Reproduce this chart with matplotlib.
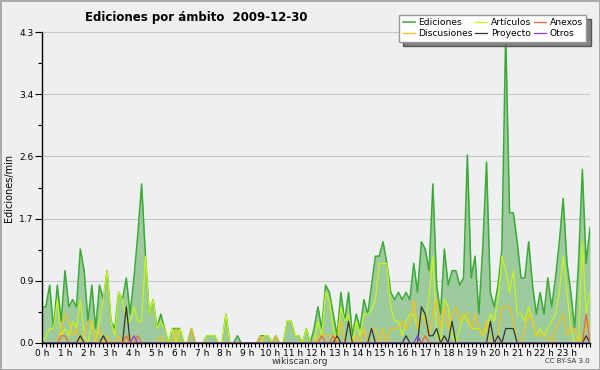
import numpy as np
import matplotlib.pyplot as plt
from matplotlib.ticker import MultipleLocator, FixedLocator

# ediciones por minuto, una muestra cada 10 min (6 por hora)
ediciones = [
    0.5, 0.5, 0.8, 0.2, 0.8, 0.3,   # 0 h
    1.0, 0.5, 0.6, 0.5, 1.3, 1.0,   # 1 h
    0.3, 0.8, 0.2, 0.8, 0.6, 1.0,   # 2 h
    0.3, 0.2, 0.7, 0.6, 0.9, 0.4,   # 3 h
    0.9, 1.5, 2.2, 1.2, 0.4, 0.6,   # 4 h
    0.2, 0.4, 0.2, 0.0, 0.2, 0.2,   # 5 h
    0.2, 0.0, 0.0, 0.2, 0.0, 0.0,   # 6 h
    0.0, 0.1, 0.1, 0.1, 0.0, 0.0,   # 7 h
    0.4, 0.0, 0.0, 0.1, 0.0, 0.0,   # 8 h
    0.0, 0.0, 0.0, 0.1, 0.1, 0.1,   # 9 h
    0.0, 0.1, 0.0, 0.0, 0.3, 0.3,   # 10 h
    0.1, 0.1, 0.0, 0.2, 0.0, 0.2,   # 11 h
    0.5, 0.2, 0.8, 0.7, 0.4, 0.1,   # 12 h
    0.7, 0.3, 0.7, 0.1, 0.4, 0.2,   # 13 h
    0.6, 0.4, 0.8, 1.2, 1.2, 1.4,   # 14 h
    1.1, 0.7, 0.6, 0.7, 0.6, 0.7,   # 15 h
    0.6, 1.1, 0.7, 1.4, 1.3, 1.0,   # 16 h
    2.2, 0.8, 0.4, 1.3, 0.8, 1.0,   # 17 h
    1.0, 0.8, 0.9, 2.6, 0.9, 1.2,   # 18 h
    0.4, 1.3, 2.5, 0.7, 0.5, 0.8,   # 19 h
    1.3, 4.3, 1.8, 1.8, 1.4, 0.9,   # 20 h
    0.9, 1.4, 0.8, 0.4, 0.7, 0.4,   # 21 h
    0.9, 0.5, 0.9, 1.4, 2.0, 1.1,   # 22 h
    0.7, 0.2, 1.1, 2.4, 1.1, 1.6,   # 23 h
]
articulos = [
    0.0, 0.1, 0.2, 0.2, 0.6, 0.1,
    0.2, 0.1, 0.3, 0.2, 0.6, 0.1,
    0.0, 0.3, 0.0, 0.3, 0.6, 1.0,
    0.3, 0.1, 0.7, 0.6, 0.3, 0.3,
    0.5, 0.3, 0.3, 1.2, 0.4, 0.6,
    0.2, 0.3, 0.2, 0.0, 0.2, 0.0,
    0.2, 0.0, 0.0, 0.0, 0.0, 0.0,
    0.0, 0.1, 0.1, 0.1, 0.0, 0.0,
    0.4, 0.0, 0.0, 0.0, 0.0, 0.0,
    0.0, 0.0, 0.0, 0.0, 0.1, 0.1,
    0.0, 0.0, 0.0, 0.0, 0.3, 0.3,
    0.1, 0.1, 0.0, 0.2, 0.0, 0.0,
    0.3, 0.1, 0.7, 0.6, 0.2, 0.0,
    0.5, 0.3, 0.4, 0.0, 0.3, 0.1,
    0.4, 0.4, 0.45, 0.6, 1.1, 1.1,
    1.1, 0.5, 0.3, 0.3, 0.1, 0.3,
    0.4, 0.4, 0.2, 0.4, 0.3, 0.6,
    1.2, 0.1, 0.0, 0.6, 0.5, 0.1,
    0.0, 0.2, 0.4, 0.3, 0.2, 0.2,
    0.2, 0.1, 0.2, 0.4, 0.3, 0.6,
    1.2, 1.0, 0.7, 1.0, 0.4, 0.4,
    0.3, 0.5, 0.3, 0.1, 0.2, 0.1,
    0.2, 0.3, 0.4, 0.7, 1.2, 0.7,
    0.2, 0.0, 0.0, 1.4, 0.4, 0.7,
]
discusiones = [
    0.0, 0.0, 0.0, 0.0, 0.0, 0.2,
    0.4, 0.3, 0.1, 0.2, 0.0, 0.1,
    0.3, 0.3, 0.0, 0.2, 0.0, 0.1,
    0.0, 0.0, 0.1, 0.0, 0.0, 0.1,
    0.0, 0.0, 0.0, 0.0, 0.0, 0.0,
    0.0, 0.1, 0.0, 0.0, 0.0, 0.2,
    0.0, 0.0, 0.0, 0.2, 0.0, 0.0,
    0.0, 0.0, 0.0, 0.0, 0.0, 0.0,
    0.0, 0.0, 0.0, 0.0, 0.0, 0.0,
    0.0, 0.0, 0.0, 0.1, 0.0, 0.0,
    0.0, 0.1, 0.0, 0.0, 0.0, 0.0,
    0.0, 0.0, 0.0, 0.0, 0.0, 0.0,
    0.1, 0.1, 0.1, 0.1, 0.1, 0.0,
    0.3, 0.0, 0.0, 0.0, 0.1, 0.0,
    0.2, 0.0, 0.2, 0.2, 0.0, 0.2,
    0.0, 0.2, 0.2, 0.2, 0.3, 0.2,
    0.3, 0.6, 0.2, 0.4, 0.3, 0.1,
    0.4, 0.6, 0.2, 0.5, 0.2, 0.4,
    0.5, 0.3, 0.4, 0.4, 0.2, 0.4,
    0.2, 0.1, 0.3, 0.0, 0.0, 0.1,
    0.5, 0.5, 0.5, 0.3, 0.0, 0.0,
    0.2, 0.4, 0.3, 0.1, 0.1, 0.1,
    0.1, 0.0, 0.2, 0.3, 0.4, 0.1,
    0.2, 0.2, 0.0, 0.1, 0.2, 0.3,
]
proyecto = [
    0.0, 0.0, 0.0, 0.0, 0.0, 0.0,
    0.0, 0.0, 0.0, 0.0, 0.1, 0.0,
    0.0, 0.0, 0.0, 0.0, 0.1, 0.0,
    0.0, 0.0, 0.0, 0.0, 0.5, 0.0,
    0.0, 0.0, 0.0, 0.0, 0.0, 0.0,
    0.0, 0.0, 0.0, 0.0, 0.0, 0.0,
    0.0, 0.0, 0.0, 0.0, 0.0, 0.0,
    0.0, 0.0, 0.0, 0.0, 0.0, 0.0,
    0.0, 0.0, 0.0, 0.0, 0.0, 0.0,
    0.0, 0.0, 0.0, 0.0, 0.0, 0.0,
    0.0, 0.0, 0.0, 0.0, 0.0, 0.0,
    0.0, 0.0, 0.0, 0.0, 0.0, 0.0,
    0.0, 0.0, 0.0, 0.0, 0.0, 0.1,
    0.0, 0.0, 0.3, 0.0, 0.0, 0.0,
    0.0, 0.0, 0.2, 0.0, 0.0, 0.0,
    0.0, 0.0, 0.0, 0.0, 0.0, 0.1,
    0.0, 0.0, 0.0, 0.5, 0.4, 0.1,
    0.1, 0.2, 0.0, 0.1, 0.0, 0.3,
    0.0, 0.0, 0.0, 0.0, 0.0, 0.0,
    0.0, 0.0, 0.0, 0.3, 0.0, 0.1,
    0.0, 0.2, 0.2, 0.2, 0.0, 0.0,
    0.0, 0.0, 0.0, 0.0, 0.0, 0.0,
    0.0, 0.0, 0.0, 0.0, 0.0, 0.0,
    0.0, 0.0, 0.0, 0.0, 0.1, 0.0,
]
anexos = [
    0.0, 0.0, 0.0, 0.0, 0.0, 0.1,
    0.1, 0.0, 0.0, 0.0, 0.0, 0.0,
    0.0, 0.0, 0.0, 0.0, 0.0, 0.0,
    0.0, 0.0, 0.0, 0.0, 0.1, 0.0,
    0.0, 0.1, 0.0, 0.0, 0.0, 0.0,
    0.0, 0.0, 0.0, 0.0, 0.0, 0.0,
    0.0, 0.0, 0.0, 0.0, 0.0, 0.0,
    0.0, 0.0, 0.0, 0.0, 0.0, 0.0,
    0.0, 0.0, 0.0, 0.0, 0.0, 0.0,
    0.0, 0.0, 0.0, 0.0, 0.0, 0.0,
    0.0, 0.0, 0.0, 0.0, 0.0, 0.0,
    0.0, 0.0, 0.0, 0.0, 0.0, 0.0,
    0.0, 0.1, 0.0, 0.0, 0.1, 0.0,
    0.0, 0.0, 0.0, 0.0, 0.0, 0.0,
    0.0, 0.0, 0.0, 0.0, 0.0, 0.0,
    0.0, 0.0, 0.0, 0.0, 0.0, 0.0,
    0.0, 0.0, 0.0, 0.0, 0.1, 0.0,
    0.0, 0.0, 0.0, 0.0, 0.0, 0.0,
    0.0, 0.0, 0.0, 0.0, 0.0, 0.0,
    0.0, 0.0, 0.0, 0.0, 0.0, 0.0,
    0.0, 0.0, 0.0, 0.0, 0.0, 0.0,
    0.0, 0.0, 0.0, 0.0, 0.0, 0.0,
    0.0, 0.0, 0.0, 0.0, 0.0, 0.0,
    0.0, 0.0, 0.0, 0.0, 0.4, 0.0,
]
otros = [0.0] * 144
otros[24] = 0.1   # 4:00
otros[98] = 0.1   # 16:20

titulo = "Ediciones por ámbito  2009-12-30"
y_max = 4.3

horas = np.linspace(0, 24, len(ediciones))

fondo = "#eeeff0"
fig = plt.figure(figsize=(6, 3.7), dpi=100, facecolor=fondo)
ax = fig.add_axes([42 / 600, 27 / 370, 548 / 600, 311 / 370], facecolor=fondo)

ax.fill_between(horas, ediciones, color="#9dcb9d", lw=0)
l_ed, = ax.plot(horas, ediciones, color="#3aaa35", lw=1.1, label="Ediciones")
l_ar, = ax.plot(horas, articulos, color="#c6f51a", lw=0.9, label="Artículos")
l_di, = ax.plot(horas, discusiones, color="#f2c21a", lw=0.9, label="Discusiones")
l_pr, = ax.plot(horas, proyecto, color="#333333", lw=0.9, label="Proyecto")
l_an, = ax.plot(horas, anexos, color="#f26a2a", lw=0.9, label="Anexos")
l_ot, = ax.plot(horas, otros, color="#8a3cf0", lw=0.9, label="Otros")

ax.set_xlim(0, 24)
ax.set_ylim(0, y_max)

ax.set_xticks(range(24))
ax.set_xticklabels([f"{h} h" for h in range(24)])
ax.xaxis.set_minor_locator(MultipleLocator(1 / 6))

yt = np.linspace(0, y_max, 6)
ax.set_yticks(yt)
ax.set_yticklabels([f"{v:.1f}" for v in yt])
ax.yaxis.set_minor_locator(FixedLocator((yt[:-1] + yt[1:]) / 2))

ax.tick_params(which="both", direction="out", length=3, width=0.8, colors="black",
               labelsize=6.5, pad=1)
ax.tick_params(axis="y", which="major", length=5)
ax.grid(axis="y", color="#c8c8c8", lw=0.8)
ax.set_axisbelow(True)
for lado in ["top", "right"]:
    ax.spines[lado].set_visible(False)
ax.spines["left"].set_linewidth(1.0)
ax.spines["bottom"].set_linewidth(1.0)

fig.legend([l_ed, l_di, l_ar, l_pr, l_an, l_ot],
           ["Ediciones", "Discusiones", "Artículos", "Proyecto", "Anexos", "Otros"],
           loc="upper right", bbox_to_anchor=(591 / 600, 1 - 10 / 370), ncol=3,
           fontsize=6.6, handlelength=1.3, handletextpad=0.4, columnspacing=0.3,
           labelspacing=0.2, borderpad=0.4, fancybox=False,
           shadow={"ox": 3, "oy": -3, "facecolor": "#777777", "alpha": 0.9},
           edgecolor="#999999", framealpha=1)

fig.text(85 / 600, 1 - 17 / 370, titulo, fontsize=8.5, fontweight="bold",
         ha="left", va="center")
fig.text(9 / 600, 1 - 188 / 370, "Ediciones/min", rotation=90, fontsize=7,
         ha="center", va="center")
fig.text(300 / 600, 1 - 361 / 370, "wikiscan.org", fontsize=6.5, ha="center",
         va="center", color="#333333")
fig.text(590 / 600, 1 - 361 / 370, "CC BY-SA 3.0", fontsize=5, ha="right",
         va="center", color="#333333")

fig.patch.set_edgecolor("#aaaaaa")
fig.patch.set_linewidth(2)
fig.savefig("out.png", dpi=100, facecolor=fig.get_facecolor(),
            edgecolor=fig.get_edgecolor())
